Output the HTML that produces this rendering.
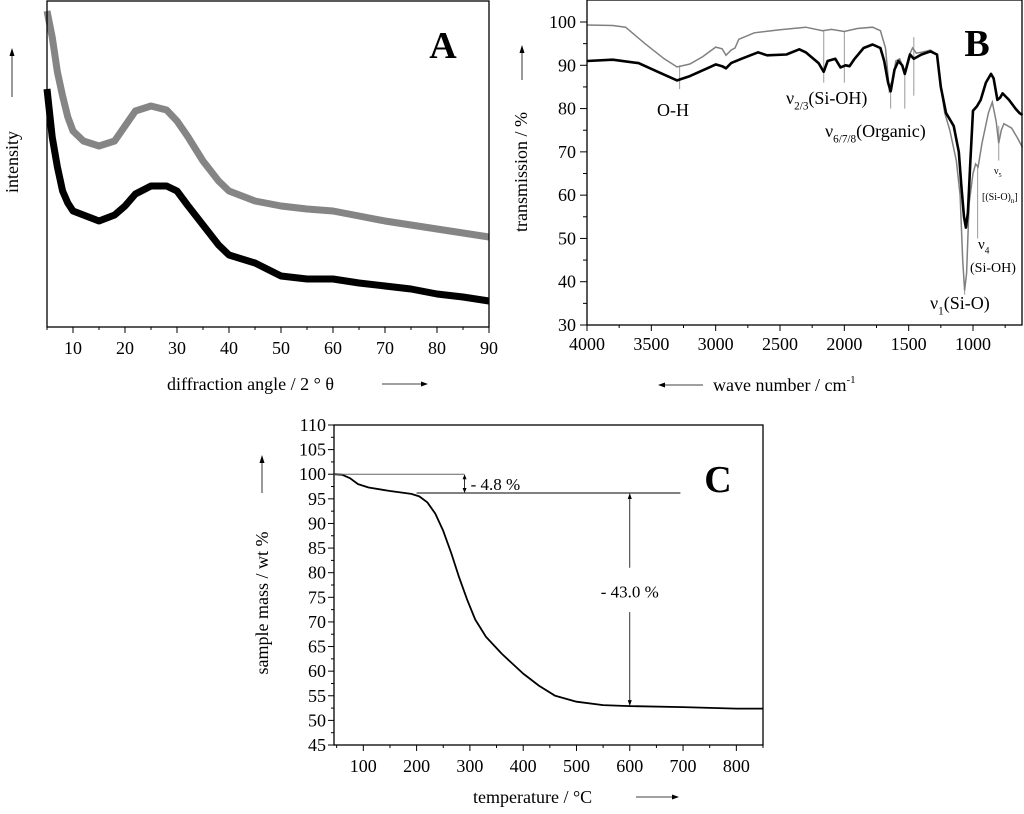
<!DOCTYPE html>
<html><head><meta charset="utf-8">
<style>
body{margin:0;background:#fff;}
svg{display:block;font-family:"Liberation Serif",serif;}
</style></head>
<body>
<svg id="fig" width="1024" height="814" viewBox="0 0 1024 814" xmlns="http://www.w3.org/2000/svg"></svg>
<script>
// ---- Panel A data (XRD, arbitrary intensity)
const aAngles = [5,6,7,8,9,10,12,15,18,20,22,25,28,30,32,35,38,40,45,50,55,60,65,70,75,80,85,90];
const aGray   = [316,290,255,231,210,196,186,181,186,201,216,221,217,206,191,166,146,136,126,121,118,116,111,106,102,98,94,90];
const aBlack  = [238,190,160,136,124,116,112,106,112,121,133,141,141,136,122,102,82,72,64,51,48,48,44,41,38,33,30,26];
// ---- Panel B data (FTIR)
const bWaveGray = [4000,3800,3700,3550,3400,3300,3200,3100,3000,2950,2920,2880,2850,2820,2700,2500,2300,2170,2100,2000,1900,1780,1720,1680,1650,1630,1600,1570,1530,1500,1470,1440,1400,1330,1280,1250,1220,1180,1130,1100,1080,1065,1050,1030,1000,980,960,930,880,850,820,800,780,760,700,650,615];
const bGray = [99.3,99.2,98.8,95,91.5,89.6,90.3,92,94.2,93.8,92.3,93.5,94,96,97.5,98.2,98.8,98,98.3,97.8,98.5,98.8,98,94,84,85,91,91.5,88.5,92,94,92.8,93,93.5,92.5,85,79,75,68,60,45,38,42,58,65,67.2,66.5,72,79,81.5,77,72,75,76.5,75.5,73,71];
const bWaveBlack = [4000,3800,3600,3450,3300,3200,3050,3000,2950,2920,2880,2800,2670,2600,2450,2350,2300,2200,2160,2130,2070,2030,1990,1960,1920,1850,1780,1720,1690,1660,1640,1610,1580,1550,1530,1490,1460,1400,1330,1280,1250,1210,1150,1110,1090,1070,1055,1040,1020,1000,970,940,900,860,840,810,790,770,720,670,640,615];
const bBlack = [91,91.3,90.5,88.5,86.5,87.5,89.5,90.2,89.8,89.3,90.5,91.5,93,92.3,92.5,93.7,93,90.5,88.5,91,91.5,89.5,90,89.8,91.5,94,94.8,94,91,86,84,89,91,90,88,92.5,91.5,92.5,93.2,92.5,85,79,76,70,62,55,52.5,56,68,79.5,80.5,82,86,88,87,82,82.5,83.5,82,80,79,78.5];
const bMarkWave = [3280,2160,2000,1640,1530,1460,964,800,1065];
const bMarkLo   = [84.5,86,86,80,80,83,50,68,37];
const bMarkHi   = [90,98,98,86,88,96.5,67,76,40];
const bYTicks = [30,40,50,60,70,80,90,100];
const bXTicks = [4000,3500,3000,2500,2000,1500,1000];
// ---- Panel C data (TGA)
const cTemp = [45,60,75,90,110,150,190,205,220,235,250,265,280,295,310,330,360,400,430,460,500,550,600,700,800,850];
const cMass = [100,99.9,99.2,98,97.3,96.6,96,95.5,94.3,92,88.5,84,79,74.5,70.5,67,63.5,59.5,57,55,53.8,53.1,52.9,52.7,52.4,52.4];
const cYTicks = [45,50,55,60,65,70,75,80,85,90,95,100,105,110];
const cXTicks = [100,200,300,400,500,600,700,800];
const aXTicks = [10,20,30,40,50,60,70,80,90];

const NS="http://www.w3.org/2000/svg";
const svg=document.getElementById('fig');
function mk(tag,attrs,parent,text){const e=document.createElementNS(NS,tag);for(const k in attrs)e.setAttribute(k,attrs[k]);if(text!==undefined)e.textContent=text;(parent||svg).appendChild(e);return e;}
function lin(d0,d1,r0,r1){return v=>r0+(v-d0)*(r1-r0)/(d1-d0);}
function pathOf(xs,ys,fx,fy){return xs.map((v,i)=>(i?'L':'M')+fx(v).toFixed(1)+' '+fy(ys[i]).toFixed(1)).join(' ');}

// ===== Panel A
const gA=mk('g',{});


const axA=lin(5,90,47,489), ayA=lin(0,326,327,1);
let p=mk('path',{d:pathOf(aAngles,aGray,axA,ayA),fill:'none',stroke:'#858585','stroke-width':7,'stroke-linejoin':'round'},gA);


p=mk('path',{d:pathOf(aAngles,aBlack,axA,ayA),fill:'none',stroke:'#000','stroke-width':7,'stroke-linejoin':'round'},gA);


let r=mk('rect',{x:47,y:1,width:442,height:326,fill:'none',stroke:'#000','stroke-width':1.3},gA);


for(let v=5;v<=90;v+=5){mk('line',{x1:axA(v),x2:axA(v),y1:327,y2:v%10?330:333,stroke:'#000'},gA);}
aXTicks.forEach(v=>{const t=mk('text',{x:axA(v),y:354,'font-size':18,'text-anchor':'middle'},gA,String(v));

});
let t=mk('text',{x:167,y:390,'font-size':18},gA,'diffraction angle / 2 ° θ');


mk('line',{x1:382,x2:424,y1:384,y2:384,stroke:'#000','stroke-width':0.8},gA);
mk('path',{d:'M428 384 L421 381.5 L421 386.5Z'},gA);
t=mk('text',{x:0,y:0,'font-size':18,'text-anchor':'middle',transform:'translate(18 162) rotate(-90)'},gA,'intensity');


mk('line',{x1:12,x2:12,y1:97,y2:54,stroke:'#000','stroke-width':0.8},gA);
mk('path',{d:'M12 48 L9.5 56 L14.5 56Z'},gA);
t=mk('text',{x:443,y:58,'font-size':38,'font-weight':'bold','text-anchor':'middle'},gA,'A');



// ===== Panel B
const gB=mk('g',{});


const axB=lin(4000,1000,587,973), ayB=lin(30,100,325,22);
bMarkWave.forEach((w,i)=>{const l=mk('line',{x1:axB(w),x2:axB(w),y1:ayB(bMarkLo[i]),y2:ayB(bMarkHi[i]),stroke:'#999','stroke-width':1},gB);

});
p=mk('path',{d:pathOf(bWaveGray,bGray,axB,ayB),fill:'none',stroke:'#808080','stroke-width':1.5},gB);


p=mk('path',{d:pathOf(bWaveBlack,bBlack,axB,ayB),fill:'none',stroke:'#000','stroke-width':2.6,'stroke-linejoin':'round'},gB);


r=mk('rect',{x:587,y:0,width:435,height:325,fill:'none',stroke:'#000','stroke-width':1.3},gB);


for(let v=30;v<=100;v+=5){mk('line',{x1:587,x2:v%10?583:580,y1:ayB(v),y2:ayB(v),stroke:'#000'},gB);}
bYTicks.forEach(v=>{const t=mk('text',{x:576,y:ayB(v)+6,'font-size':18,'text-anchor':'end'},gB,String(v));

});
for(let v=4000;v>=650;v-=250){mk('line',{x1:axB(v),x2:axB(v),y1:325,y2:v%500?328:331,stroke:'#000'},gB);}
bXTicks.forEach(v=>{const t=mk('text',{x:axB(v),y:350,'font-size':18,'text-anchor':'middle'},gB,String(v));

});
t=mk('text',{x:713,y:391,'font-size':18},gB);


mk('tspan',{},t,'wave number / cm');
mk('tspan',{'font-size':11,dy:-8},t,'-1');
mk('line',{x1:663,x2:703,y1:385,y2:385,stroke:'#000','stroke-width':0.8},gB);
mk('path',{d:'M658 385 L665 382.5 L665 387.5Z'},gB);
t=mk('text',{x:0,y:0,'font-size':18,'text-anchor':'middle',transform:'translate(527 172) rotate(-90)'},gB,'transmission / %');


mk('line',{x1:522,x2:522,y1:80,y2:52,stroke:'#000','stroke-width':0.8},gB);
mk('path',{d:'M522 45 L519.5 53 L524.5 53Z'},gB);
t=mk('text',{x:977,y:56,'font-size':38,'font-weight':'bold','text-anchor':'middle'},gB,'B');


function lab(x,y,sz,main,sub,rest,name){const e=mk('text',{x:x,y:y,'font-size':sz},gB);


mk('tspan',{},e,main);if(sub){mk('tspan',{'font-size':sz*0.62,dy:sz*0.3},e,sub);mk('tspan',{dy:-sz*0.3},e,rest);}return e;}
lab(657,116,18,'O-H','', '', 'label-oh');
lab(786,104,18,'ν','2/3','(Si-OH)','label-nu23');
lab(825,137,18,'ν','6/7/8','(Organic)','label-nu678');
lab(930,309,18,'ν','1','(Si-O)','label-nu1');
lab(978,249,15,'ν','4','','label-nu4');
t=mk('text',{x:970,y:272,'font-size':14},gB,'(Si-OH)');


lab(994,174,10,'ν','5','','label-nu5');
t=mk('text',{x:982,y:200,'font-size':10},gB);


mk('tspan',{},t,'[(Si-O)');
mk('tspan',{'font-size':7,dy:3},t,'n');
mk('tspan',{dy:-3},t,']');

// ===== Panel C
const gC=mk('g',{});


const axC=lin(45,850,334,763), ayC=lin(45,110,745,425);
p=mk('path',{d:pathOf(cTemp,cMass,axC,ayC),fill:'none',stroke:'#000','stroke-width':1.8,'stroke-linejoin':'round'},gC);


r=mk('rect',{x:334,y:425,width:429,height:320,fill:'none',stroke:'#000','stroke-width':1.3},gC);


for(let v=45;v<=110;v+=2.5){mk('line',{x1:334,x2:(v%5)?331:328,y1:ayC(v),y2:ayC(v),stroke:'#000'},gC);}
cYTicks.forEach(v=>{const t=mk('text',{x:326,y:ayC(v)+6,'font-size':18,'text-anchor':'end'},gC,String(v));

});
for(let v=50;v<=850;v+=50){mk('line',{x1:axC(v),x2:axC(v),y1:745,y2:v%100?748:751,stroke:'#000'},gC);}
cXTicks.forEach(v=>{const t=mk('text',{x:axC(v),y:772,'font-size':18,'text-anchor':'middle'},gC,String(v));

});
t=mk('text',{x:473,y:803,'font-size':18},gC,'temperature / °C');


mk('line',{x1:636,x2:672,y1:797,y2:797,stroke:'#000','stroke-width':0.8},gC);
mk('path',{d:'M679 797 L672 794.5 L672 799.5Z'},gC);
t=mk('text',{x:0,y:0,'font-size':18,'text-anchor':'middle',transform:'translate(268 603) rotate(-90)'},gC,'sample mass / wt %');


mk('line',{x1:262,x2:262,y1:493,y2:462,stroke:'#000','stroke-width':0.8},gC);
mk('path',{d:'M262 455 L259.5 463 L264.5 463Z'},gC);
t=mk('text',{x:718,y:492,'font-size':38,'font-weight':'bold','text-anchor':'middle'},gC,'C');


// annotations
mk('line',{x1:334,x2:axC(290),y1:ayC(100),y2:ayC(100),stroke:'#666'},gC);
mk('line',{x1:axC(200),x2:axC(695),y1:ayC(96.2),y2:ayC(96.2),stroke:'#000'},gC);
const a1=axC(290);
mk('line',{x1:a1,x2:a1,y1:ayC(100)+4,y2:ayC(96.2)-4,stroke:'#000','stroke-width':0.8},gC);
mk('path',{d:`M${a1} ${ayC(100)} l-2 5 h4z M${a1} ${ayC(96.2)} l-2 -5 h4z`},gC);
t=mk('text',{x:a1+6,y:ayC(96.2)-3,'font-size':17},gC,'- 4.8 %');


const a2=axC(600);
mk('line',{x1:a2,x2:a2,y1:ayC(96.2)+4,y2:ayC(81),stroke:'#000','stroke-width':0.8},gC);
mk('line',{x1:a2,x2:a2,y1:ayC(72),y2:ayC(53)-4,stroke:'#000','stroke-width':0.8},gC);
mk('path',{d:`M${a2} ${ayC(96.2)} l-2 6 h4z M${a2} ${ayC(52.9)} l-2 -6 h4z`},gC);
t=mk('text',{x:a2,y:ayC(76.2)+6,'font-size':17,'text-anchor':'middle'},gC,'- 43.0 %');


</script>
</body></html>
